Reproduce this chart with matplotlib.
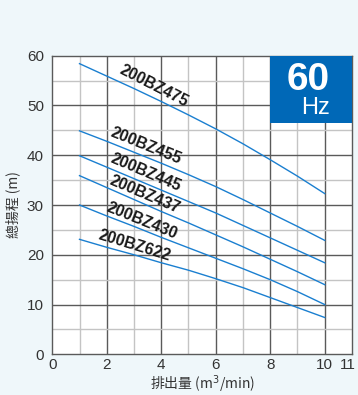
import matplotlib.pyplot as plt
import matplotlib.transforms as mtransforms
from matplotlib.ticker import MultipleLocator

# 吐出量 (m3/min) と 各機種の総揚程 (m)
flow = [1, 2, 3, 4, 5, 6, 7, 8, 9, 10]
head_475 = [58.4, 55.9, 53.4, 50.8, 48.1, 45.3, 42.3, 39.1, 35.8, 32.3]
head_455 = [44.9, 42.8, 40.6, 38.4, 36.1, 33.7, 31.1, 28.4, 25.7, 22.9]
head_445 = [39.9, 37.6, 35.3, 33.0, 30.7, 28.4, 25.9, 23.4, 20.9, 18.4]
head_437 = [35.9, 33.5, 31.1, 28.7, 26.4, 24.0, 21.6, 19.1, 16.6, 14.0]
head_430 = [30.0, 27.8, 25.7, 23.5, 21.4, 19.3, 17.2, 15.0, 12.6, 10.0]
head_622 = [23.1, 21.5, 20.0, 18.4, 16.9, 15.2, 13.4, 11.4, 9.4, 7.4]

models = ['200BZ475', '200BZ455', '200BZ445', '200BZ437', '200BZ430', '200BZ622']
heads = [head_475, head_455, head_445, head_437, head_430, head_622]

# ラベル位置と角度
label_pos = [(3.72, 54.0), (3.44, 41.9), (3.45, 36.6), (3.40, 32.1), (3.30, 26.8), (3.03, 21.8)]
label_rot = [-27, -22, -23, -23, -22, -17]

bg = '#eff7fa'
dark = '#5a5a5a'
light = '#c4c4c4'
blue = '#1a7fd0'

fig = plt.figure(figsize=(3.58, 3.95), dpi=100, facecolor=bg)
ax = fig.add_axes([0.146, 0.103, 0.837, 0.756])
ax.set_facecolor('white')

ax.set_xlim(0, 11)
ax.set_ylim(0, 60)

# グリッド
for x in range(1, 11):
    ax.axvline(x, color=dark if x % 2 == 0 else light, lw=1.0, zorder=1)
for y in range(5, 60, 5):
    ax.axhline(y, color=dark if y % 10 == 0 else light, lw=1.0, zorder=1)

for s in ax.spines.values():
    s.set_color(dark)
    s.set_linewidth(1.0)

ax.set_xticks([0, 2, 4, 6, 8, 10, 11])
ax.yaxis.set_major_locator(MultipleLocator(10))
ax.tick_params(length=0, labelsize=11, colors='#333333', labelfontfamily='Liberation Sans')
ax.tick_params(axis='y', pad=6)
ax.tick_params(axis='x', pad=3)

# 「11」が右端で切れないよう少し左へ
last = ax.get_xticklabels()[-1]
last.set_transform(last.get_transform() + mtransforms.ScaledTranslation(-4 / 100, 0, fig.dpi_scale_trans))

# 曲線
for h in heads:
    ax.plot(flow, h, color=blue, lw=1.0, zorder=3)

for name, (lx, ly), rot in zip(models, label_pos, label_rot):
    ax.text(lx, ly, name, rotation=rot, ha='center', va='center',
            fontsize=11.5, fontweight='bold', family='Liberation Sans',
            color='#1a1a1a', zorder=4, rotation_mode='anchor')

# 60Hz ボックス
ax.fill_between([8, 11], 46.4, 60, color='#0068b7', zorder=5, lw=0)
ax.text(10.2, 55.1, '60', ha='right', va='center', color='white',
        fontsize=28, fontweight='bold', family='Liberation Sans', zorder=6)
ax.text(10.2, 49.4, 'Hz', ha='right', va='center', color='white',
        fontsize=17, family='Liberation Sans', zorder=6)

ax.set_xlabel('排出量 (m$^3$/min)', fontsize=10, color='#333333',
              family=['Noto Sans CJK TC', 'DejaVu Sans'], labelpad=1)
ax.set_ylabel('總揚程 (m)', fontsize=10, color='#333333',
              family=['Noto Sans CJK TC', 'DejaVu Sans'], labelpad=5)

fig.savefig('out.png', dpi=100, facecolor=bg)
